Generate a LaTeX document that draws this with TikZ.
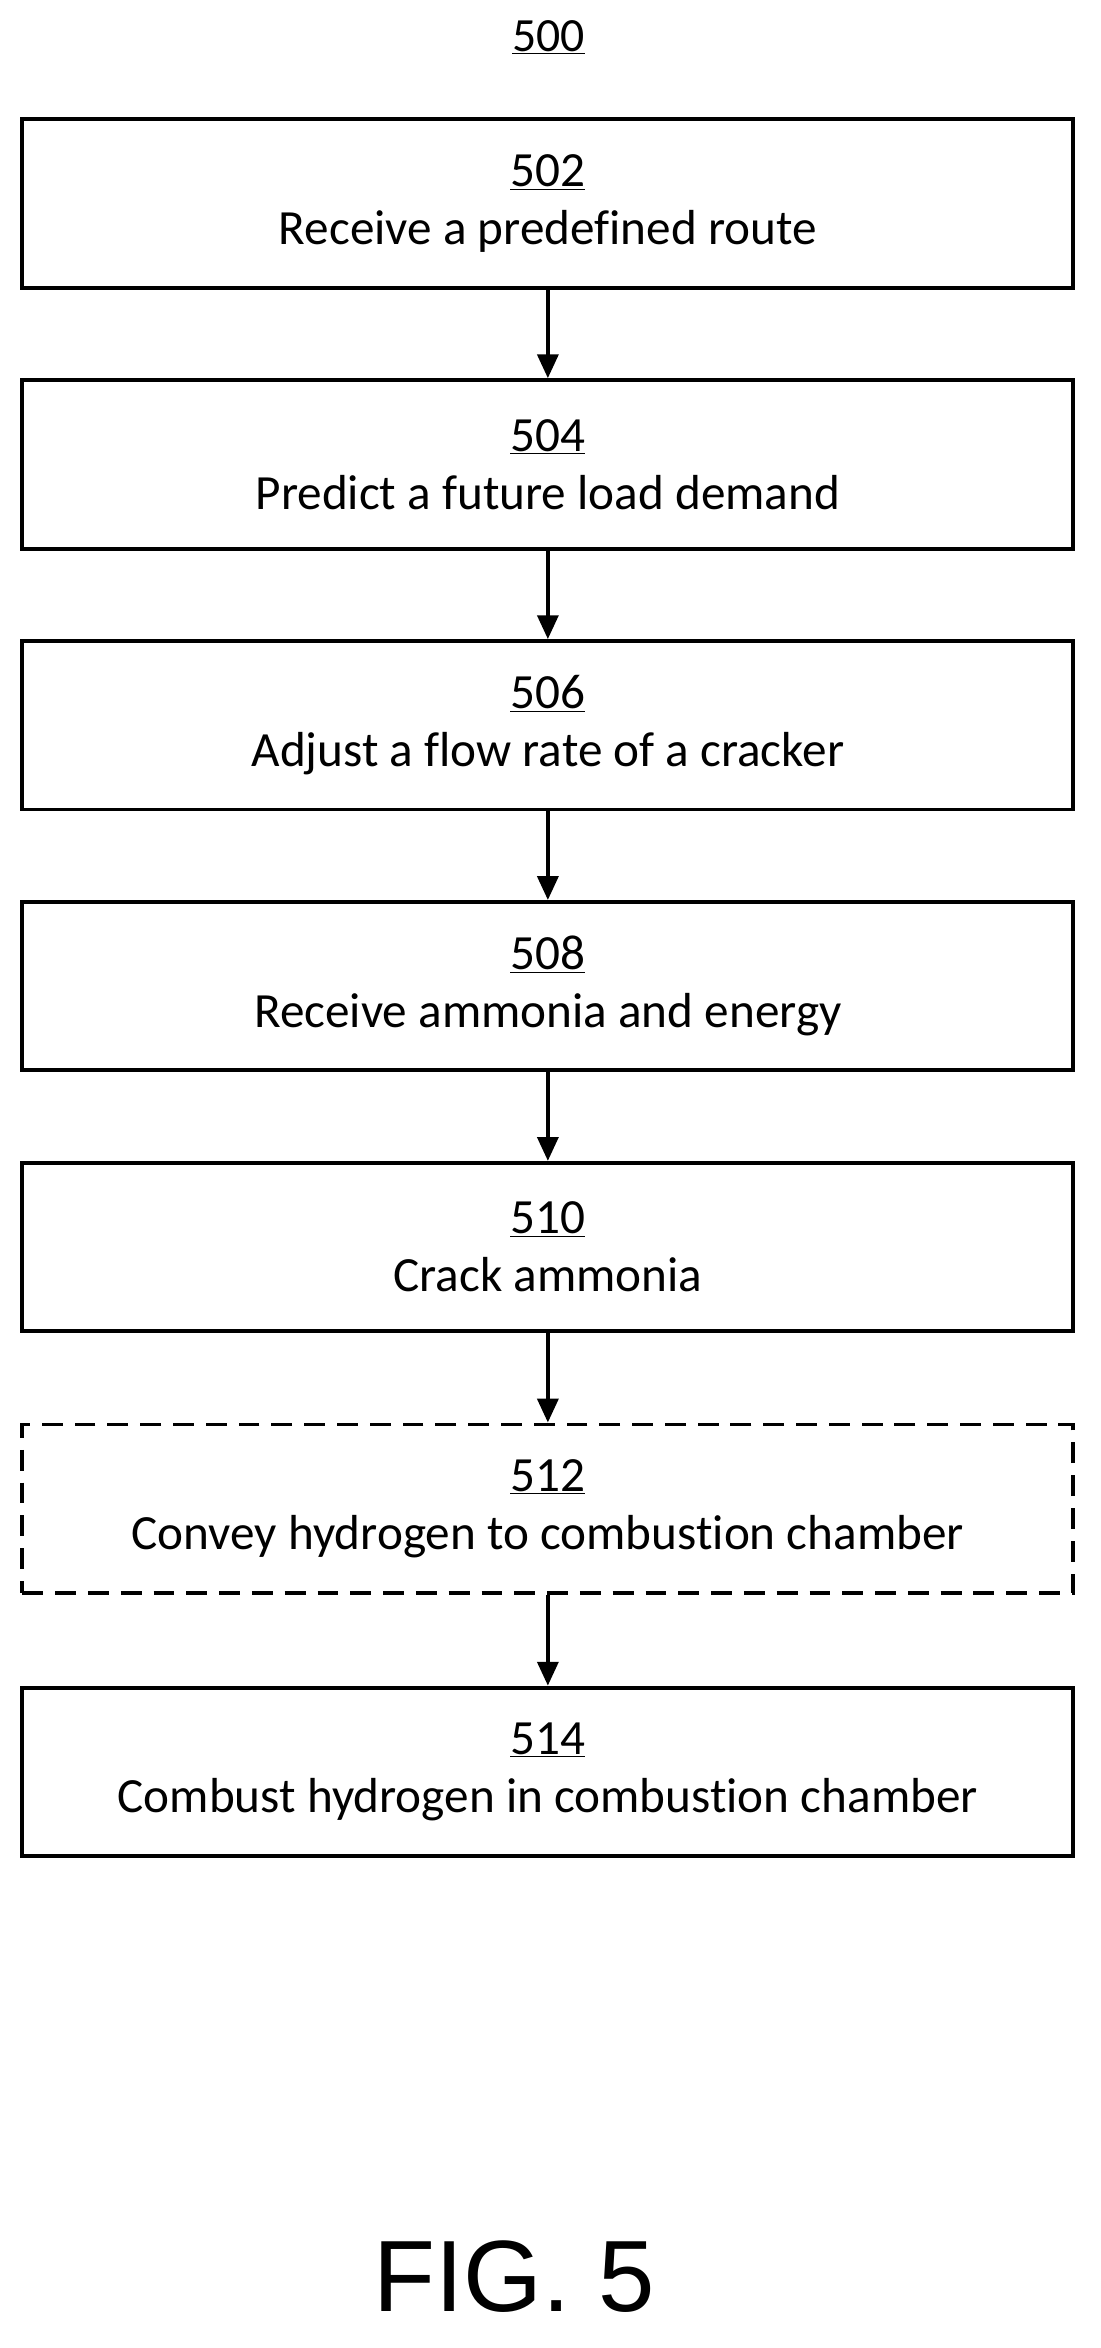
\documentclass[tikz,border=0pt]{standalone}
\usepackage{fontspec}
\setmainfont{Carlito}[Ligatures={NoCommon}]
\newfontfamily\figfont{Liberation Sans}
\usetikzlibrary{arrows.meta}
\begin{document}
\begin{tikzpicture}[x=1pt,y=-1pt,
  box/.style={draw,line width=2.6pt,minimum width=705pt,minimum height=113pt,align=center,font=\fontsize{33}{39}\selectfont,inner sep=0pt},
  arr/.style={line width=2.6pt,-{Triangle[length=16pt,width=14pt]}}]
\useasboundingbox (0,0) rectangle (738,1575);
\node[font=\fontsize{32}{38}\selectfont] (t) at (368,25) {\underline{500}};
\node[box] (b1) at (367.5,136.5) {\underline{502}\\Receive a predefined route};
\node[box] (b2) at (367.5,311.5) {\underline{504}\\Predict a future load demand};
\node[box] (b3) at (367.5,486.5) {\underline{506}\\Adjust a flow rate of a cracker};
\node[box] (b4) at (367.5,661.5) {\underline{508}\\Receive ammonia and energy};
\node[box] (b5) at (367.5,836.5) {\underline{510}\\Crack ammonia};
\node[box,dash pattern=on 14pt off 8pt] (b6) at (367.5,1012) {\underline{512}\\Convey hydrogen to combustion chamber};
\node[box] (b7) at (367.5,1188.5) {\underline{514}\\Combust hydrogen in combustion chamber};
\foreach \a/\b in {b1/b2,b2/b3,b3/b4,b4/b5,b5/b6,b6/b7} \draw[arr] (\a) -- (\b);
\node[font=\figfont\fontsize{68}{80}\selectfont] (f) at (345,1527) {FIG. 5};
\end{tikzpicture}
\end{document}
